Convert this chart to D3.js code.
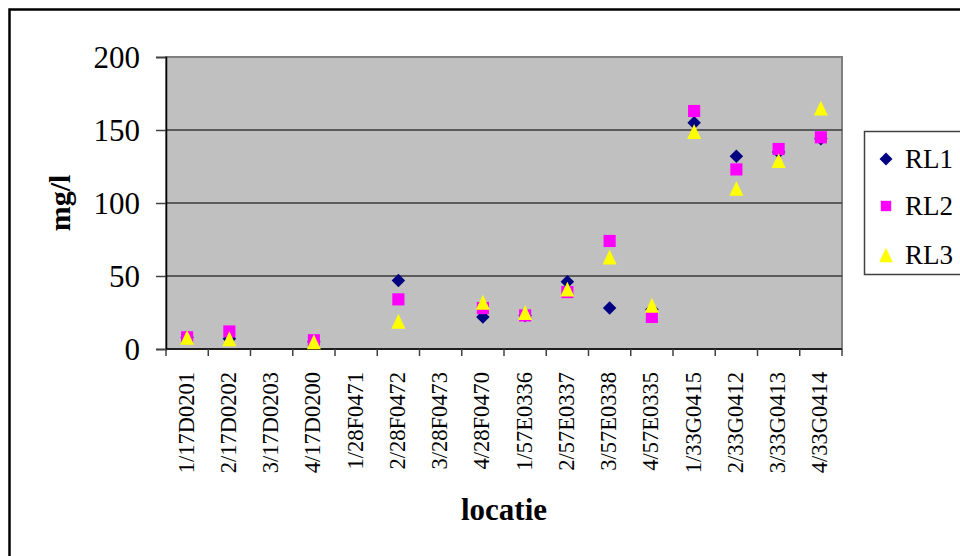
<!DOCTYPE html>
<html>
<head>
<meta charset="utf-8">
<script src="https://cdn.jsdelivr.net/npm/d3@7/dist/d3.min.js"></script>
<style>
  html, body { margin: 0; padding: 0; background: #fff; }
  svg { display: block; }
  svg text { font-family: 'Liberation Serif', 'Times New Roman', Tinos, 'DejaVu Serif', serif; fill: #000; }
</style>
</head>
<body>
<svg id="chart" width="960" height="556"></svg>
<script>
// Sample locations along the x axis
const locaties = [
  "1/17D0201", "2/17D0202", "3/17D0203", "4/17D0200",
  "1/28F0471", "2/28F0472", "3/28F0473", "4/28F0470",
  "1/57E0336", "2/57E0337", "3/57E0338", "4/57E0335",
  "1/33G0415", "2/33G0412", "3/33G0413", "4/33G0414"
];

// Measured concentrations (mg/l) per series; null = no measurement
const rl1 = [8, 7, null, 5, null, 47, null, 22, 23, 46, 28, 27, 155, 132, 135, 144];
const rl2 = [8, 12, null, 6, null, 34, null, 28, 23, 39, 74, 22, 163, 123, 137, 145];
const rl3 = [8, 7, null, 5, null, 19, null, 32, 25, 41, 63, 30, 149, 110, 129, 165];

const seriesNames = ["RL1", "RL2", "RL3"];
const yTicks = [0, 50, 100, 150, 200];

const series = [
  { name: seriesNames[0], values: rl1, color: "#000080", shape: "diamond" },
  { name: seriesNames[1], values: rl2, color: "#FF00FF", shape: "square" },
  { name: seriesNames[2], values: rl3, color: "#FFFF00", shape: "triangle" }
];

const FONT = "'Liberation Serif', 'Times New Roman', Tinos, 'DejaVu Serif', serif";

const svg = d3.select("#chart");
const plot = { left: 166, top: 57, right: 842, bottom: 349 };

const x = d3.scaleBand().domain(locaties).range([plot.left, plot.right]).paddingInner(0).paddingOuter(0);
const y = d3.scaleLinear().domain([0, 200]).range([plot.bottom, plot.top]);

// Outer chart frame
svg.append("rect")
  .attr("x", 9.5).attr("y", 9.5).attr("width", 1000).attr("height", 600)
  .attr("fill", "none").attr("stroke", "#000").attr("stroke-width", 2.5);

// Plot background
svg.append("rect")
  .attr("x", plot.left).attr("y", plot.top)
  .attr("width", plot.right - plot.left).attr("height", plot.bottom - plot.top)
  .attr("fill", "#C0C0C0").attr("stroke", "#808080").attr("stroke-width", 2);

// Horizontal gridlines
svg.append("g").selectAll("line")
  .data(yTicks.filter(d => d > 0 && d < 200))
  .join("line")
  .attr("x1", plot.left).attr("x2", plot.right)
  .attr("y1", d => y(d)).attr("y2", d => y(d))
  .attr("stroke", "#3a3a3a").attr("stroke-width", 1.5);

// Y axis
const yAxis = svg.append("g")
  .attr("transform", `translate(${plot.left},0)`)
  .call(d3.axisLeft(y).tickValues(yTicks).tickSize(10).tickPadding(16).tickFormat(d3.format("d")));
yAxis.attr("font-family", null);
yAxis.select(".domain").attr("stroke", "#000").attr("stroke-width", 1.5);
yAxis.selectAll(".tick line").attr("stroke", "#404040").attr("stroke-width", 1.5);
yAxis.selectAll(".tick text")
  .style("font-family", FONT)
  .attr("font-size", 31).attr("fill", "#000").attr("dy", "0.34em");

// X axis: ticks sit on category boundaries
const boundaries = locaties.map(d => x(d)).concat([plot.right]);
const xAxisG = svg.append("g");
xAxisG.append("line")
  .attr("x1", plot.left).attr("x2", plot.right)
  .attr("y1", plot.bottom).attr("y2", plot.bottom)
  .attr("stroke", "#000").attr("stroke-width", 1.5);
xAxisG.selectAll("line.tick")
  .data(boundaries)
  .join("line")
  .attr("class", "tick")
  .attr("x1", d => d).attr("x2", d => d)
  .attr("y1", plot.bottom).attr("y2", plot.bottom + 7)
  .attr("stroke", "#404040").attr("stroke-width", 1.5);
xAxisG.selectAll("text")
  .data(locaties)
  .join("text")
  .attr("transform", d => `translate(${x(d) + x.bandwidth() / 2},${plot.bottom + 23}) rotate(-90)`)
  .attr("text-anchor", "end")
  .attr("dy", "0.29em")
  .style("font-family", FONT)
  .attr("font-size", 22.5)
  .text(d => d);

// Axis titles
svg.append("text")
  .attr("transform", `translate(70,${(plot.top + plot.bottom) / 2}) rotate(-90)`)
  .attr("text-anchor", "middle")
  .style("font-family", FONT)
  .attr("font-size", 30).attr("font-weight", "bold")
  .text("mg/l");

svg.append("text")
  .attr("x", (plot.left + plot.right) / 2).attr("y", 520)
  .attr("text-anchor", "middle")
  .style("font-family", FONT)
  .attr("font-size", 31).attr("font-weight", "bold")
  .text("locatie");

// Marker shapes
function markerPath(shape, s) {
  if (shape === "diamond") {
    const r = s * 0.5;
    return `M0,${-r}L${r},0L0,${r}L${-r},0Z`;
  }
  if (shape === "square") {
    const r = s * 0.45;
    return `M${-r},${-r}H${r}V${r}H${-r}Z`;
  }
  const w = s * 0.52, h = s * 0.55;
  return `M0,${-h}L${w},${h}L${-w},${h}Z`;
}

// Scatter points
series.forEach(sr => {
  const pts = locaties.map((loc, i) => ({ loc, v: sr.values[i] })).filter(d => d.v != null);
  svg.append("g").selectAll("path")
    .data(pts)
    .join("path")
    .attr("transform", d => `translate(${x(d.loc) + x.bandwidth() / 2},${y(d.v)})`)
    .attr("d", markerPath(sr.shape, 13.5))
    .attr("fill", sr.color);
});

// Legend
const legend = svg.append("g");
legend.append("rect")
  .attr("x", 864.5).attr("y", 131.5).attr("width", 120).attr("height", 143)
  .attr("fill", "#fff").attr("stroke", "#404040").attr("stroke-width", 1.5);
const legendRows = [159, 206, 255];
series.forEach((sr, i) => {
  legend.append("path")
    .attr("transform", `translate(886,${legendRows[i]})`)
    .attr("d", markerPath(sr.shape, sr.shape === "square" ? 11.5 : 13))
    .attr("fill", sr.color);
  legend.append("text")
    .attr("x", 905).attr("y", legendRows[i]).attr("dy", "0.35em")
    .style("font-family", FONT)
    .attr("font-size", 27)
    .text(sr.name);
});
</script>
</body>
</html>
